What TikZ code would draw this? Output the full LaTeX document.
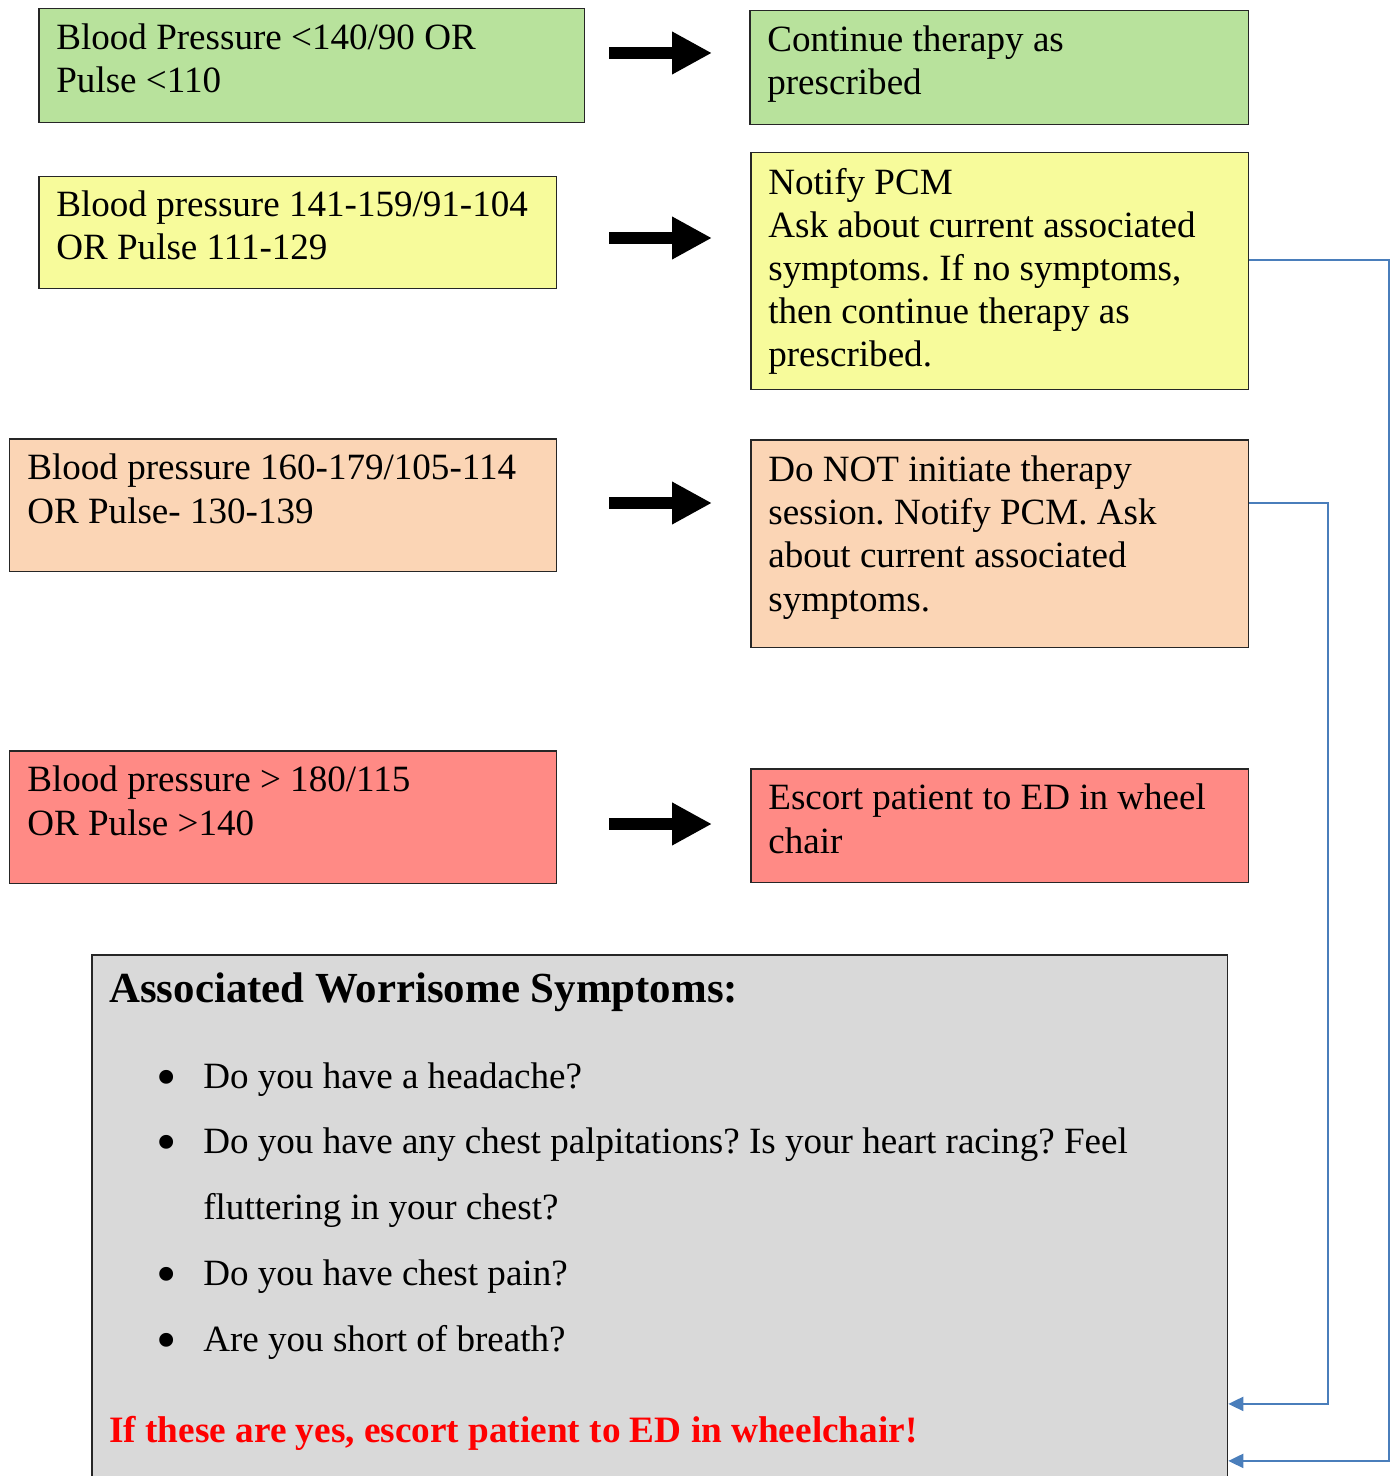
\documentclass[tikz,border=0pt]{standalone}
\usepackage{fontspec}
\setmainfont{Liberation Serif}
\frenchspacing
\usetikzlibrary{arrows.meta,positioning}
\definecolor{okgreen}{HTML}{B8E29C}
\definecolor{warnyellow}{HTML}{F7FB9B}
\definecolor{alertorange}{HTML}{FBD5B5}
\definecolor{dangerred}{HTML}{FF8A85}
\definecolor{symgray}{HTML}{D9D9D9}
\definecolor{linkblue}{HTML}{4A7EBB}
\newcommand{\listdot}{\makebox[0.94cm][l]{\raisebox{-4.6pt}{\fontsize{33}{33}\selectfont\textbullet}}}
\tikzset{
  box/.style={draw=black!85, line width=0.03cm, anchor=north west, inner sep=0pt},
  txt/.style={anchor=base west, align=left, inner sep=0pt, font=\fontsize{21.1}{24.5}\selectfont},
  bigarrow/.style={line width=0.24cm, -{Triangle[length=0.8cm,width=0.8cm]}},
  link/.style={draw=linkblue, line width=0.04cm, -{Triangle[length=0.3cm,width=0.28cm]}}
}
\begin{document}
\begin{tikzpicture}[x=0.02cm,y=-0.02cm]
    \useasboundingbox (0,0) rectangle (1395,1476);
    \node[box, fill=okgreen, minimum width=10.92cm, minimum height=2.28cm] (bp1) at (38,8) {};
    \node[box, fill=okgreen, minimum width=9.98cm, minimum height=2.28cm] (act1) at (749,10) {};
    \node[box, fill=warnyellow, minimum width=10.36cm, minimum height=2.24cm] (bp2) at (38,176) {};
    \node[box, fill=warnyellow, minimum width=9.96cm, minimum height=4.74cm] (act2) at (750,152) {};
    \node[box, fill=alertorange, minimum width=10.94cm, minimum height=2.66cm] (bp3) at (9,438) {};
    \node[box, fill=alertorange, minimum width=9.96cm, minimum height=4.16cm] (act3) at (750,439) {};
    \node[box, fill=dangerred, minimum width=10.94cm, minimum height=2.66cm] (bp4) at (9,750) {};
    \node[box, fill=dangerred, minimum width=9.96cm, minimum height=2.28cm] (act4) at (750,768) {};
    \node[box, fill=symgray, minimum width=22.72cm, minimum height=11cm] (sym) at (91,954) {};

    % text nodes sit on the baseline of their last line
    \node[txt] (bp1t) at ([shift={(18,85)}]bp1.north west) {Blood Pressure <140/90 OR\\Pulse <110};
    \node[txt] (act1t) at ([shift={(18,85)}]act1.north west) {Continue therapy as\\prescribed};
    \node[txt] (bp2t) at ([shift={(18,84)}]bp2.north west) {Blood pressure 141-159/91-104\\OR Pulse 111-129};
    \node[txt] (act2t) at ([shift={(18,215)}]act2.north west) {Notify PCM\\Ask about current associated\\symptoms. If no symptoms,\\then continue therapy as\\prescribed.};
    \node[txt] (bp3t) at ([shift={(18,85)}]bp3.north west) {Blood pressure 160-179/105-114\\OR Pulse- 130-139};
    \node[txt] (act3t) at ([shift={(18,172)}]act3.north west) {Do NOT initiate therapy\\session. Notify PCM. Ask\\about current associated\\symptoms.};
    \node[txt] (bp4t) at ([shift={(18,85)}]bp4.north west) {Blood pressure > 180/115\\OR Pulse >140};
    \node[txt] (act4t) at ([shift={(18,85)}]act4.north west) {Escort patient to ED in wheel\\chair};

    \node[txt, font=\fontsize{24.4}{28}\selectfont\bfseries] (symtitle) at (109,1002) {Associated Worrisome Symptoms:};
    \node[txt, font=\fontsize{21.1}{37.4}\selectfont] (symlist) at (156,1351) {%
      \listdot Do you have a headache?\\
      \listdot Do you have any chest palpitations? Is your heart racing? Feel\\
      \hspace*{0.94cm}fluttering in your chest?\\
      \listdot Do you have chest pain?\\
      \listdot Are you short of breath?};
    \node[txt, font=\fontsize{21.2}{24.5}\selectfont\bfseries, text=red] (symwarn) at (109,1442) {If these are yes, escort patient to ED in wheelchair!};

    \foreach \y/\n in {53/1,238/2,503/3,824/4} {
      \coordinate (s\n) at (609,\y);
      \coordinate (e\n) at (712,\y);
      \draw[bigarrow] (s\n) -- (e\n);
    }

    \draw[link] ([yshift=0.23cm]act2.east) -- ++(140,0) |- ([yshift=-10.14cm]sym.north east);
    \draw[link] ([yshift=0.82cm]act3.east) -- ++(79,0) |- ([yshift=-9cm]sym.north east);
\end{tikzpicture}
\end{document}
